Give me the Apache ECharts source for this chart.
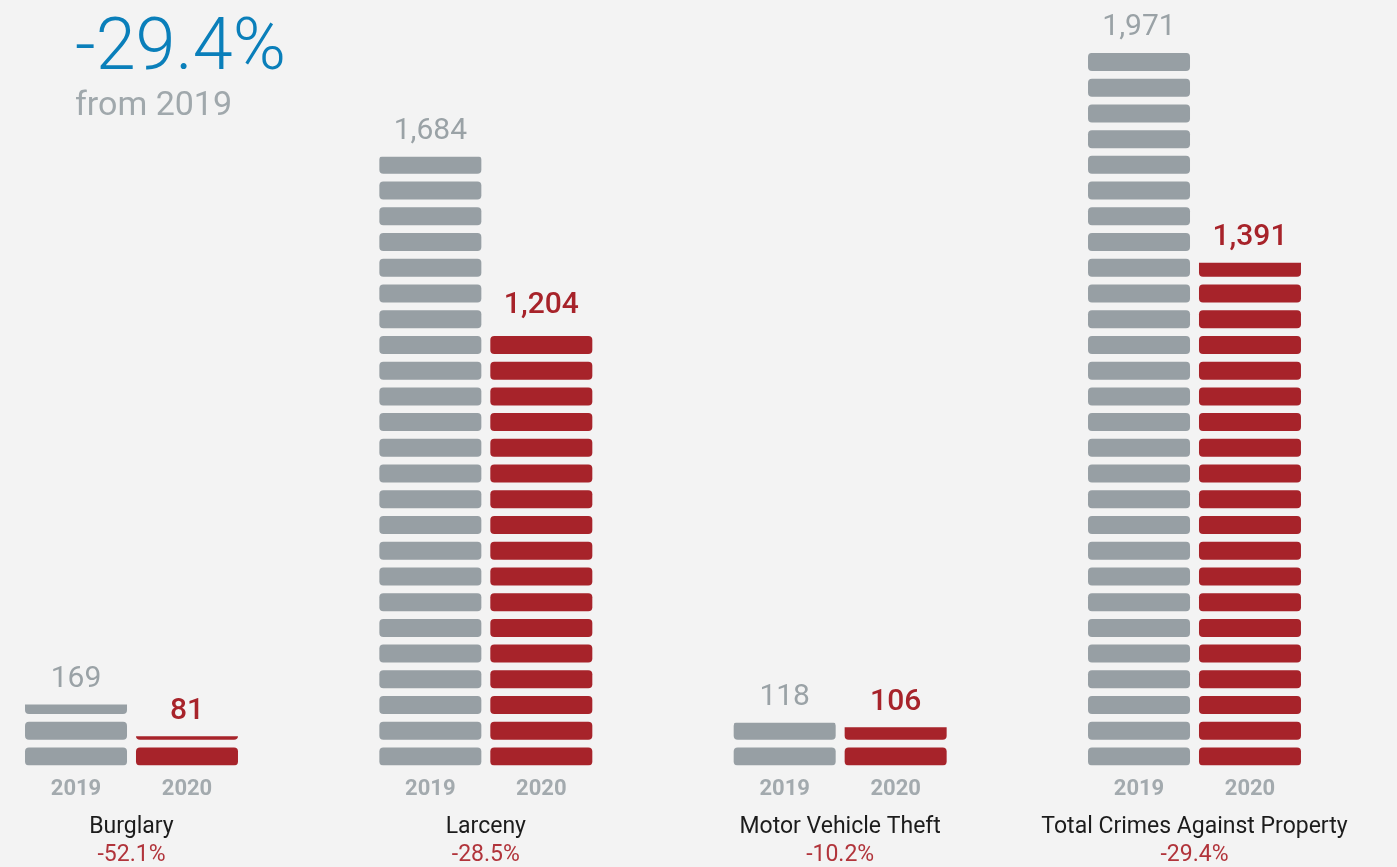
<!DOCTYPE html>
<html>
<head>
<meta charset="utf-8">
<script src="https://cdn.jsdelivr.net/npm/echarts@6/dist/echarts.min.js"></script>
<style>
html,body{margin:0;padding:0;background:#f3f3f3;}
#chart{width:1397px;height:867px;}
</style>
</head>
<body>
<div id="chart"></div>
<script>
const categories = ['Burglary', 'Larceny', 'Motor Vehicle Theft', 'Total Crimes Against Property'];
const years = ['2019', '2020'];
const values2019 = [169, 1684, 118, 1971];
const values2020 = [81, 1204, 106, 1391];
const changeLabels = ['-52.1%', '-28.5%', '-10.2%', '-29.4%'];
const headline = '-29.4%';
const headlineSub = 'from 2019';

const FONT = 'Roboto';
const GRAY = '#979fa4';
const RED = '#a7232a';
const maxValue = Math.max(...values2019, ...values2020);
const BLOCK = 'path://M4,0 H98 Q102,0 102,4 V14 Q102,18 98,18 H4 Q0,18 0,14 V4 Q0,0 4,0 Z';

const chart = echarts.init(document.getElementById('chart'));

function blocks(name, data, color) {
  return {
    name: name,
    type: 'pictorialBar',
    data: data,
    barWidth: 102,
    barGap: '8.8%',
    symbol: BLOCK,
    symbolSize: [102, 18],
    symbolRepeat: true,
    symbolMargin: 3.875,
    symbolClip: true,
    symbolBoundingData: maxValue,
    itemStyle: { color: color },
    label: { show: false },
    z: 3,
    silent: true,
    animation: false
  };
}

function valueLabels(name, data, labelColor, weight) {
  return {
    name: name,
    type: 'bar',
    data: data,
    barWidth: 102,
    barGap: '8.8%',
    itemStyle: { color: 'rgba(0,0,0,0)' },
    label: {
      show: true,
      position: 'top',
      distance: 10,
      fontFamily: FONT,
      fontSize: 30,
      fontWeight: weight,
      color: labelColor,
      formatter: p => Number(p.value).toLocaleString('en-US')
    },
    z: 2,
    silent: true,
    animation: false
  };
}

chart.setOption({
  backgroundColor: '#f3f3f3',
  animation: false,
  title: {
    text: headline,
    subtext: headlineSub,
    left: 70,
    top: 6,
    itemGap: -4,
    textStyle: { fontFamily: FONT, fontSize: 72, fontWeight: 300, color: '#0a7fba', lineHeight: 80 },
    subtextStyle: { fontFamily: FONT, fontSize: 34, fontWeight: 400, color: '#a0a8ac', lineHeight: 38 }
  },
  grid: { left: 131.5, right: 202.5, top: 42.5, bottom: 101, containLabel: false },
  xAxis: {
    type: 'category',
    data: categories,
    boundaryGap: false,
    axisLine: { show: false },
    axisTick: { show: false },
    splitLine: { show: false },
    axisLabel: {
      interval: 0,
      margin: 4,
      hideOverlap: false,
      align: 'center',
      formatter: (v, i) => `{y|${years[0]}}{g|}{y|${years[1]}}\n{n|${v}}\n{p|${changeLabels[i]}}`,
      rich: {
        y: { width: 102, align: 'center', fontFamily: FONT, fontSize: 22, fontWeight: 'bold', color: '#a3aaae', lineHeight: 40 },
        g: { width: 9, align: 'center', lineHeight: 40 },
        n: { align: 'center', fontFamily: FONT, fontSize: 23, fontWeight: 400, color: '#1c1c1c', lineHeight: 36 },
        p: { align: 'center', fontFamily: FONT, fontSize: 23, fontWeight: 400, color: '#b1343b', lineHeight: 20 }
      }
    }
  },
  yAxis: {
    type: 'value',
    min: 0,
    max: 2000,
    show: false,
    splitLine: { show: false }
  },
  series: [
    blocks(years[0], values2019, GRAY),
    blocks(years[1], values2020, RED),
    valueLabels(years[0] + ' label', values2019, '#9aa2a6', 400),
    valueLabels(years[1] + ' label', values2020, RED, 500)
  ]
});
</script>
</body>
</html>
